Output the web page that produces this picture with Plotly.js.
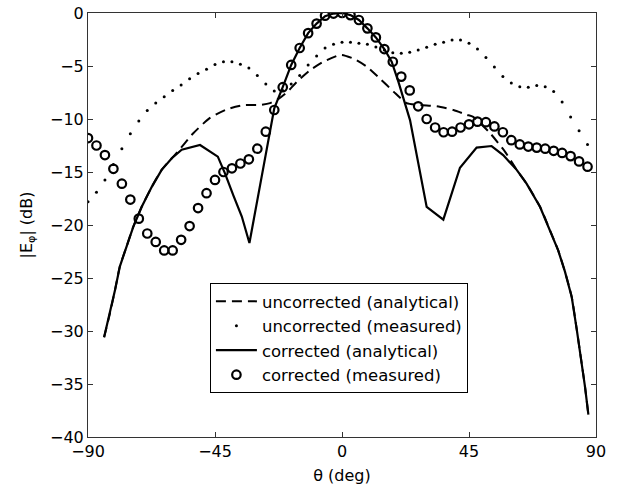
<!DOCTYPE html>
<html>
<head>
<meta charset="utf-8">
<script src="https://cdn.plot.ly/plotly-3.0.1.min.js"></script>
<style>html,body{margin:0;padding:0;background:#fff;}#chart{width:619px;height:485px;}</style>
</head>
<body>
<div id="chart"></div>
<script>
// uncorrected (analytical)
const uaTheta = [-84.3,-82.2,-80.4,-78.7,-76.3,-74,-71,-67.4,-63.9,-60.3,-58.6,-52.7,-46.8,-40.9,-35,-29,-25.5,-22.5,-19.6,-16,-11.3,-6.6,-1.3,0,4,8.8,13.5,18.2,22.9,27.6,33.6,39.5,44.2,46.5,52.5,57.8,61.9,65.4,70.2,73.7,76.6,79,81.4,83.2,84.9,86.1,87.3];
const uaVal = [-30.6,-28.3,-26.1,-23.9,-22.0,-20.2,-18.3,-16.4,-14.8,-13.7,-13.2,-11.35,-9.9,-9.1,-8.7,-8.68,-8.5,-8.1,-7.5,-6.5,-5.4,-4.6,-4.0,-3.96,-4.3,-5.06,-6.2,-7.4,-8.5,-8.68,-8.8,-9.15,-9.6,-9.8,-11.35,-13.1,-14.8,-16.1,-18.3,-20.5,-22.4,-24.4,-26.8,-29.9,-33.0,-35.25,-37.9];

// measured angles (uncorrected and corrected)
const measTheta = [-90,-87,-84,-81,-78,-75,-72,-69,-66,-63,-60,-57,-54,-51,-48,-45,-42,-39,-36,-33,-30,-27,-24,-21,-18,-15,-12,-9,-6,-3,0,3,6,9,12,15,18,21,24,27,30,33,36,39,42,45,48,51,54,57,60,63,66,69,72,75,78,81,84,87];

// uncorrected (measured)
const umVal = [-17.8,-16.9,-15.75,-14.3,-12.8,-11.4,-10.2,-9.2,-8.5,-7.9,-7.3,-6.8,-6.2,-5.7,-5.3,-4.85,-4.6,-4.6,-4.84,-5.2,-5.9,-6.7,-7.35,-7.3,-6.7,-5.9,-4.9,-4.06,-3.3,-2.95,-2.77,-2.77,-2.86,-2.95,-3.2,-3.5,-3.75,-3.8,-3.7,-3.5,-3.24,-2.95,-2.77,-2.55,-2.55,-2.85,-3.4,-4.2,-5.1,-6.0,-6.6,-6.95,-7.0,-6.85,-6.95,-7.4,-8.4,-9.8,-11.1,-12.4];

// corrected (analytical)
const caTheta = [-84.3,-82.2,-80.4,-78.7,-76.3,-74,-71,-67.4,-63.9,-60.3,-56.8,-50.3,-44,-41.5,-38.5,-35.5,-32.8,-24,-21,-18,-15,-12,-9,-6,-3,0,3,6,9,12,15,17.6,20,22.3,24.1,30,35.9,41.8,47.7,53,57.1,61.9,65.4,70.2,73.7,76.6,79,81.4,83.2,84.9,86.1,87.3];
const caVal = [-30.6,-28.3,-26.1,-23.9,-22.0,-20.2,-18.3,-16.4,-14.8,-13.7,-12.9,-12.45,-13.55,-15.1,-17.2,-19.2,-21.7,-9.0,-7.0,-4.9,-3.3,-1.9,-1.0,-0.3,-0.05,0,-0.2,-0.66,-1.45,-2.3,-3.4,-4.6,-6.5,-8.4,-10.1,-18.3,-19.5,-14.6,-12.7,-12.55,-13.4,-14.8,-16.1,-18.3,-20.5,-22.4,-24.4,-26.8,-29.9,-33.0,-35.25,-37.9];

// corrected (measured)
const cmVal = [-11.8,-12.5,-13.4,-14.7,-16.1,-17.6,-19.4,-20.8,-21.6,-22.4,-22.4,-21.4,-20.1,-18.4,-17.0,-15.75,-15.0,-14.65,-14.2,-13.8,-12.8,-11.2,-9.15,-7.0,-4.9,-3.3,-1.9,-1.0,-0.25,-0.05,0,-0.2,-0.66,-1.45,-2.3,-3.4,-4.6,-6.0,-7.3,-8.8,-10.0,-10.8,-11.25,-11.2,-10.8,-10.5,-10.25,-10.3,-10.7,-11.25,-12.0,-12.4,-12.6,-12.7,-12.8,-13.0,-13.2,-13.5,-14.0,-14.5];

const xTicks = [-90,-45,0,45,90];
const seriesNames = ['uncorrected (analytical)','uncorrected (measured)','corrected (analytical)','corrected (measured)'];

const traces = [
  {x: uaTheta, y: uaVal, name: seriesNames[0], mode: 'lines',
   line: {color: '#000', width: 2, dash: '10px,6px', shape: 'spline', smoothing: 0.6}},
  {x: measTheta, y: umVal, name: seriesNames[1], mode: 'markers',
   marker: {color: '#000', size: 3, symbol: 'circle'}},
  {x: caTheta, y: caVal, name: seriesNames[2], mode: 'lines',
   line: {color: '#000', width: 2.2}},
  {x: measTheta, y: cmVal, name: seriesNames[3], mode: 'markers',
   marker: {color: '#000', size: 8.5, symbol: 'circle-open', line: {width: 2.2}}}
];

const fam = '"DejaVu Sans", Verdana, sans-serif';
const font = {family: fam, color: '#000', size: 16};

const layout = {
  width: 619, height: 485,
  margin: {l: 88, r: 23, t: 13, b: 48},
  paper_bgcolor: '#fff', plot_bgcolor: '#fff',
  font: font,
  showlegend: true,
  legend: {x: 0.24, y: 0.363, xanchor: 'left', yanchor: 'top',
    bgcolor: '#fff', bordercolor: '#000', borderwidth: 1,
    font: {family: fam, size: 16.5, color: '#000'},
    tracegroupgap: 0, itemwidth: 41},
  xaxis: {range: [-90, 90], tickvals: xTicks, ticks: 'inside', ticklen: 5, tickcolor: '#333',
    showline: true, linecolor: '#333', linewidth: 1, mirror: 'ticks', showgrid: false, zeroline: false,
    title: {text: 'θ (deg)', font: {size: 16}, standoff: 9}, tickfont: {size: 16}},
  yaxis: {range: [-40, 0], dtick: 5, ticks: 'inside', ticklen: 5, tickcolor: '#333',
    showline: true, linecolor: '#333', linewidth: 1, mirror: 'ticks', showgrid: false, zeroline: false,
    title: {text: '|E<sub>φ</sub>| (dB)', font: {size: 16}, standoff: 13}, tickfont: {size: 16}}
};

Plotly.newPlot('chart', traces, layout, {displayModeBar: false, staticPlot: true});
</script>
</body>
</html>
